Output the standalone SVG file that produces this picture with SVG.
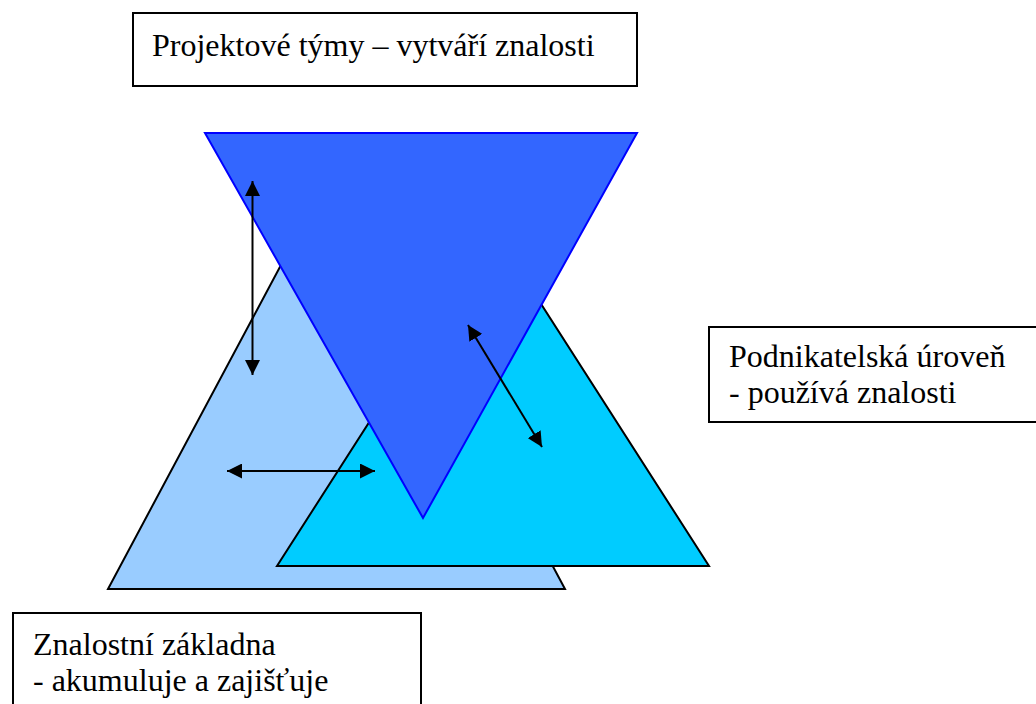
<svg xmlns="http://www.w3.org/2000/svg" width="1036" height="704" viewBox="0 0 1036 704">
<style>
.box{fill:#fff;stroke:#000;stroke-width:2}
.t{font-family:'Liberation Serif','Times New Roman',serif;font-size:32px;fill:#000}
.arr{stroke:#000;stroke-width:2;fill:none;marker-start:url(#ah);marker-end:url(#ah)}
</style>
<defs>
<marker id="ah" viewBox="0 0 10 10" refX="10" refY="5" markerWidth="7.5" markerHeight="7.5" orient="auto-start-reverse" markerUnits="strokeWidth">
<path d="M0,0 L10,5 L0,10 z" fill="#000"/>
</marker>
</defs>
<rect width="1036" height="704" fill="#fff"/>
<g id="base-triangle">
<polygon points="336.5,161 565,589 108,589" fill="#99CCFF" stroke="#000" stroke-width="2"/>
</g>
<g id="business-triangle">
<polygon points="493,229 709,566 277,566" fill="#00CCFF" stroke="#000" stroke-width="2"/>
</g>
<g id="project-triangle">
<polygon points="205,133 637,133 423,518" fill="#3366FF" stroke="#0000FF" stroke-width="2"/>
</g>
<g id="connectors">
<line class="arr" x1="252.5" y1="181" x2="252.5" y2="375"/>
<line class="arr" x1="468" y1="325" x2="542" y2="447"/>
<line class="arr" x1="227" y1="471" x2="375" y2="471"/>
</g>
<g id="box-project">
<rect class="box" x="133" y="13" width="504" height="73"/>
<text class="t" x="152" y="56">Projektové týmy – vytváří znalosti</text>
</g>
<g id="box-business">
<rect class="box" x="709" y="327" width="340" height="95"/>
<text class="t" x="729" y="367">Podnikatelská úroveň</text>
<text class="t" x="729" y="403">- používá znalosti</text>
</g>
<g id="box-base">
<rect class="box" x="13" y="613" width="408" height="100"/>
<text class="t" x="33" y="655">Znalostní základna</text>
<text class="t" x="33" y="691">- akumuluje a zajišťuje</text>
</g>
</svg>
